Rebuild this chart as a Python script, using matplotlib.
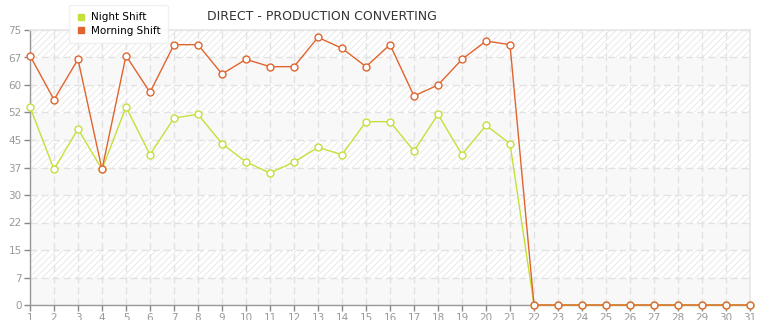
import matplotlib

matplotlib.use("Agg")
import matplotlib.pyplot as plt
from matplotlib.lines import Line2D

# chart data
days = list(range(1, 32))
night_shift = [54, 37, 48, 37, 54, 41, 51, 52, 44, 39, 36, 39, 43, 41, 50, 50,
               42, 52, 41, 49, 44, 0, 0, 0, 0, 0, 0, 0, 0, 0, 0]
morning_shift = [68, 56, 67, 37, 68, 58, 71, 71, 63, 67, 65, 65, 73, 70, 65, 71,
                 57, 60, 67, 72, 71, 0, 0, 0, 0, 0, 0, 0, 0, 0, 0]
y_ticks = [i * 7.5 for i in range(11)]
y_labels = [str(int(v)) for v in y_ticks]

NIGHT_COLOR = "#c5e03a"
MORNING_COLOR = "#e0642e"
GRID_COLOR = "#e2e2e2"
TEXT_COLOR = "#999999"

plt.rcParams["hatch.linewidth"] = 0.6

fig = plt.figure(figsize=(7.65, 3.2), dpi=100)
ax = fig.add_axes([30 / 765, 15 / 320, 720 / 765, 275 / 320])

# alternating background bands: plain on even bands, hatched on odd ones
for i in range(len(y_ticks) - 1):
    if i % 2 == 0:
        ax.axhspan(y_ticks[i], y_ticks[i + 1], facecolor="#f8f8f8",
                   edgecolor="none", zorder=0)
    else:
        ax.axhspan(y_ticks[i], y_ticks[i + 1], facecolor="#ffffff",
                   edgecolor="#e6e6e6", hatch="/////", linewidth=0, zorder=0)

ax.plot(days, night_shift, color=NIGHT_COLOR, lw=1, marker="o", ms=5,
        mfc="white", mec=NIGHT_COLOR, mew=1, zorder=3, clip_on=False)
ax.plot(days, morning_shift, color=MORNING_COLOR, lw=1, marker="o", ms=5,
        mfc="white", mec=MORNING_COLOR, mew=1, zorder=4, clip_on=False)

ax.set_xlim(1, 31)
ax.set_ylim(0, 75)
ax.set_xticks(days)
ax.set_xticklabels([str(d) for d in days])
ax.set_yticks(y_ticks)
ax.set_yticklabels(y_labels)
ax.tick_params(axis="both", colors="#888888", labelcolor=TEXT_COLOR,
               labelsize=7.5, length=4, width=1)
ax.tick_params(axis="y", pad=2)
ax.tick_params(axis="x", pad=1.5)

ax.grid(True, color=GRID_COLOR, linestyle=(0, (5, 3)), linewidth=1, zorder=1)
ax.set_axisbelow(True)

for side in ("top", "right"):
    ax.spines[side].set_color("#e6e6e6")
    ax.spines[side].set_linewidth(1.2)
for side in ("left", "bottom"):
    ax.spines[side].set_color("#999999")
    ax.spines[side].set_linewidth(1)

fig.text(322 / 765, 1 - 17 / 320, "DIRECT - PRODUCTION CONVERTING",
         ha="center", va="center", fontsize=9, color="#333333")

handles = [
    Line2D([], [], linestyle="none", marker="s", ms=4, color=NIGHT_COLOR),
    Line2D([], [], linestyle="none", marker="s", ms=4, color=MORNING_COLOR),
]
leg = fig.legend(handles, ["Night Shift", "Morning Shift"], loc="upper left",
                 bbox_to_anchor=(64 / 765, 1.0), fontsize=7.5, frameon=True,
                 fancybox=True, shadow=False, handlelength=0.8,
                 handletextpad=0.6, borderpad=0.7, labelspacing=0.35)
leg.get_frame().set_edgecolor("#eeeeee")
leg.get_frame().set_facecolor("white")
leg.set_zorder(10)

fig.savefig("out.png", dpi=100)
